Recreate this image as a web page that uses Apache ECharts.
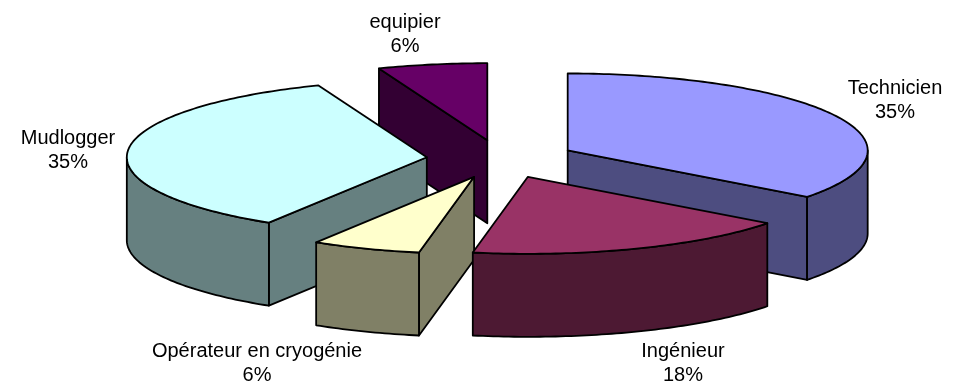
<!DOCTYPE html>
<html>
<head>
<meta charset="utf-8">
<style>html,body{margin:0;padding:0;background:#fff}#c{width:964px;height:385px}</style>
<script src="https://cdn.jsdelivr.net/npm/echarts@6/dist/echarts.min.js"></script>
</head>
<body>
<div id="c"></div>
<script>
// Data
const categories = ['Technicien', 'Ingénieur', 'Opérateur en cryogénie', 'Mudlogger', 'equipier'];
const values = [6, 3, 1, 6, 1];

// Styles
const topColors = ['#9999FF', '#993366', '#FFFFCC', '#CCFFFF', '#660066'];
const sideColors = ['#4D4D80', '#4D1933', '#808066', '#668080', '#330033'];
// paint order, back to front
const paintRank = [2, 4, 3, 1, 0];

// Layout of the projected pie
const pie = { cx: 501, cy: 159, rx: 300, ry: 77, depth: 83, explode: 74.5 };
const labelPos = [[895, 100], [683, 363.5], [257, 363.5], [68, 150], [405, 34]];

const total = values.reduce((a, b) => a + b, 0);
const rad = d => d * Math.PI / 180;
let acc = 0;
const spans = values.map(v => { const s = [acc, acc + v / total * 360]; acc = s[1]; return s; });

function renderItem(params, api) {
  const i = params.dataIndex;
  const [t0, t1] = spans[i];
  const mid = rad((t0 + t1) / 2);
  const k = pie.ry / pie.rx;
  const ax = pie.cx + pie.explode * Math.sin(mid);
  const ay = pie.cy - pie.explode * k * Math.cos(mid);
  const P = (t, drop) => [ax + pie.rx * Math.sin(rad(t)), ay - pie.ry * Math.cos(rad(t)) + (drop || 0)];
  const arc = (a, b, drop) => {
    const n = Math.max(2, Math.ceil(Math.abs(b - a)));
    const pts = [];
    for (let j = 0; j <= n; j++) pts.push(P(a + (b - a) * j / n, drop));
    return pts;
  };
  const apex = [ax, ay];
  const apexLow = [ax, ay + pie.depth];
  const lineW = 1.8;
  const side = { fill: sideColors[i], stroke: '#000', lineWidth: lineW, lineJoin: 'round' };
  const z = paintRank[i] * 10;
  const children = [];
  const wall = pts => children.push({ type: 'polygon', z2: z, shape: { points: pts }, style: side });

  // radial walls facing the viewer
  if (Math.sin(rad(t0)) < -1e-6) wall([apex, P(t0), P(t0, pie.depth), apexLow]);
  if (Math.sin(rad(t1)) > 1e-6) wall([apex, P(t1), P(t1, pie.depth), apexLow]);
  // outer wall: front half of the rim
  const a = Math.max(t0, 90), b = Math.min(t1, 270);
  if (b > a) wall(arc(a, b, 0).concat(arc(a, b, pie.depth).reverse()));
  // top
  children.push({
    type: 'polygon', z2: z + 1,
    shape: { points: [apex].concat(arc(t0, t1, 0)) },
    style: { fill: topColors[i], stroke: '#000', lineWidth: lineW, lineJoin: 'round' }
  });
  // label
  const pct = Math.round(values[i] / total * 100) + '%';
  children.push({
    type: 'text', z2: 100,
    style: {
      x: labelPos[i][0], y: labelPos[i][1],
      text: api.value(1) + '\n' + pct,
      fill: '#000', font: '20px "Liberation Sans", Arial, sans-serif',
      align: 'center', verticalAlign: 'middle', lineHeight: 24
    }
  });
  return { type: 'group', children };
}

const chart = echarts.init(document.getElementById('c'), null, { renderer: 'canvas' });
chart.setOption({
  animation: false,
  backgroundColor: '#fff',
  series: [{
    type: 'custom',
    coordinateSystem: 'none',
    renderItem,
    silent: true,
    data: categories.map((c, i) => ({ name: c, value: [values[i], c] })),
    encode: { value: 0 }
  }]
});
</script>
</body>
</html>
